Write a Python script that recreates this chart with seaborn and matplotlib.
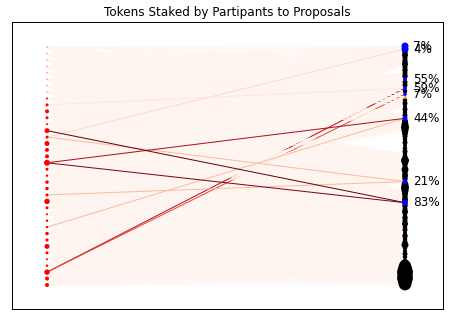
import numpy as np
import pandas as pd
import matplotlib
matplotlib.use("Agg")
import matplotlib.pyplot as plt
from matplotlib.collections import LineCollection
import seaborn as sns

# ---------------- data ----------------
# participant holdings-based node sizes (top to bottom)
participant_sizes = [1, 1, 1, 1, 1, 1, 1, 1, 4, 9, 16, 9, 4, 25, 9, 25, 16, 16,
                     36, 9, 6, 12, 12, 9, 30, 9, 4, 6, 6, 12, 9, 25, 9, 4, 6, 30, 16, 16]

# proposal funds-requested-based node sizes (top to bottom)
proposal_sizes = [49, 49, 30, 36, 25, 30, 36, 25, 30, 25, 30, 16, 25, 25, 16, 20,
                  12, 9, 20, 25, 16, 25, 20, 25, 25, 36, 49, 64, 49, 36, 25, 20,
                  25, 16, 20, 25, 20, 30, 64, 36, 25, 49, 30, 36, 30, 25, 49, 64,
                  49, 36, 30, 36, 36, 30, 25, 36, 20, 30, 25, 36, 20, 25, 16, 30,
                  20, 25, 49, 20, 16, 25, 20, 9, 60, 150, 200, 250, 220, 250, 200, 160]

# proposal status: candidates (blue) with conviction labels, one active (orange)
candidate_idx = [0, 1, 11, 14, 16, 24, 45, 52]
candidate_labels = ["7%", "4%", "55%", "59%", "7%", "44%", "21%", "83%"]
active_idx = [17]

# proposals without any edges
no_edge_props = [7, 8, 21, 22, 29, 30, 31, 32, 33, 34, 35, 46, 47]
# proposals linked only to a band of participants: (first prop, last prop, first part, last part)
edge_bands = [(3, 6, 0, 25), (9, 10, 7, 37), (20, 28, 0, 23), (36, 40, 7, 37),
              (45, 45, 0, 30), (48, 49, 7, 37)]

# non-zero stakes: (participant, proposal, tokens)
stake_part = [13, 18, 18, 35, 35, 28, 23, 14, 14, 9]
stake_prop = [52, 52, 24, 14, 16, 24, 45, 45, 1, 14]
stake_tokens = [1.0, 0.95, 0.85, 0.85, 0.6, 0.25, 0.25, 0.25, 0.15, 0.08]

# ---------------- layout ----------------
N = len(participant_sizes)
M = len(proposal_sizes)
part_y = np.array([N - 2 * i - 2 for i in range(N)], dtype=float)
prop_y = np.linspace(part_y[0] + 0.3, part_y[-1] + 0.3, M)

parts = pd.DataFrame({"x": 0.0, "y": part_y, "s": participant_sizes})
prop_color = ["black"] * M
for j in candidate_idx:
    prop_color[j] = "blue"
for j in active_idx:
    prop_color[j] = "orange"
props = pd.DataFrame({"x": 1.0, "y": prop_y, "s": proposal_sizes, "c": prop_color})

# edges
tok = {}
for p, q, t in zip(stake_part, stake_prop, stake_tokens):
    tok[(p, q)] = t
band = {}
for a, b, lo, hi in edge_bands:
    for j in range(a, b + 1):
        band[j] = (lo, hi)

late_part = 35          # its stakes are partly drawn over by later edges
cut_part = 3            # participants 0..cut_part drawn after it
edges = []
for i in reversed(range(N)):
    if i == cut_part:
        for p, q, t in zip(stake_part, stake_prop, stake_tokens):
            if p == late_part:
                edges.append((p, q, t))
    for j in reversed(range(M)):
        if (i, j) in tok:
            continue
        if j in no_edge_props:
            continue
        if j in band and not (band[j][0] <= i <= band[j][1]):
            continue
        edges.append((i, j, 0.0))
order = np.argsort(stake_tokens, kind="stable")
for k in order:
    if stake_part[k] != late_part:
        edges.append((stake_part[k], stake_prop[k], stake_tokens[k]))

segs = [[(0.0, part_y[i]), (1.0, prop_y[j])] for i, j, _ in edges]
vals = np.array([e[2] for e in edges])
widths = [1.0 if v > 0 else 0.8 for v in vals]

# ---------------- plot ----------------
fig = plt.figure(figsize=(449 / 72, 321 / 72), dpi=72)
ax = fig.add_axes([12 / 449, 1 - 309 / 321, 431 / 449, 287 / 321])

lc = LineCollection(segs, cmap=plt.cm.Reds, linewidths=widths, zorder=1)
lc.set_array(vals)
lc.set_clim(0, 1)
ax.add_collection(lc)

sns.scatterplot(data=parts, x="x", y="y", size="s", sizes=(min(participant_sizes), max(participant_sizes)),
                color="red", linewidth=0, legend=False, ax=ax, zorder=2)
for col in ["black", "blue", "orange"]:
    sub = props[props["c"] == col]
    ax.scatter(sub["x"], sub["y"], s=sub["s"], c=col, linewidths=0, zorder=2)

for j, lab in zip(candidate_idx, candidate_labels):
    ax.annotate(lab, (1.0, prop_y[j]), xytext=(8, 0), textcoords="offset points",
                ha="left", va="center", fontsize=12, zorder=3)

# limits mapping layout into frame
px_per_unit = (285 - 47) / (part_y[0] - part_y[-1])
ax.set_ylim(part_y[-1] - 24 / px_per_unit, part_y[0] + 25 / px_per_unit)
ax.set_xlim(-35 / 358, 1 + 38 / 358)
ax.set_xticks([])
ax.set_yticks([])
ax.set_xlabel("")
ax.set_ylabel("")
for sp in ax.spines.values():
    sp.set_linewidth(1.0)
    sp.set_color("black")
ax.set_title("Tokens Staked by Partipants to Proposals", fontsize=12)

fig.savefig("out.png", dpi=72)
